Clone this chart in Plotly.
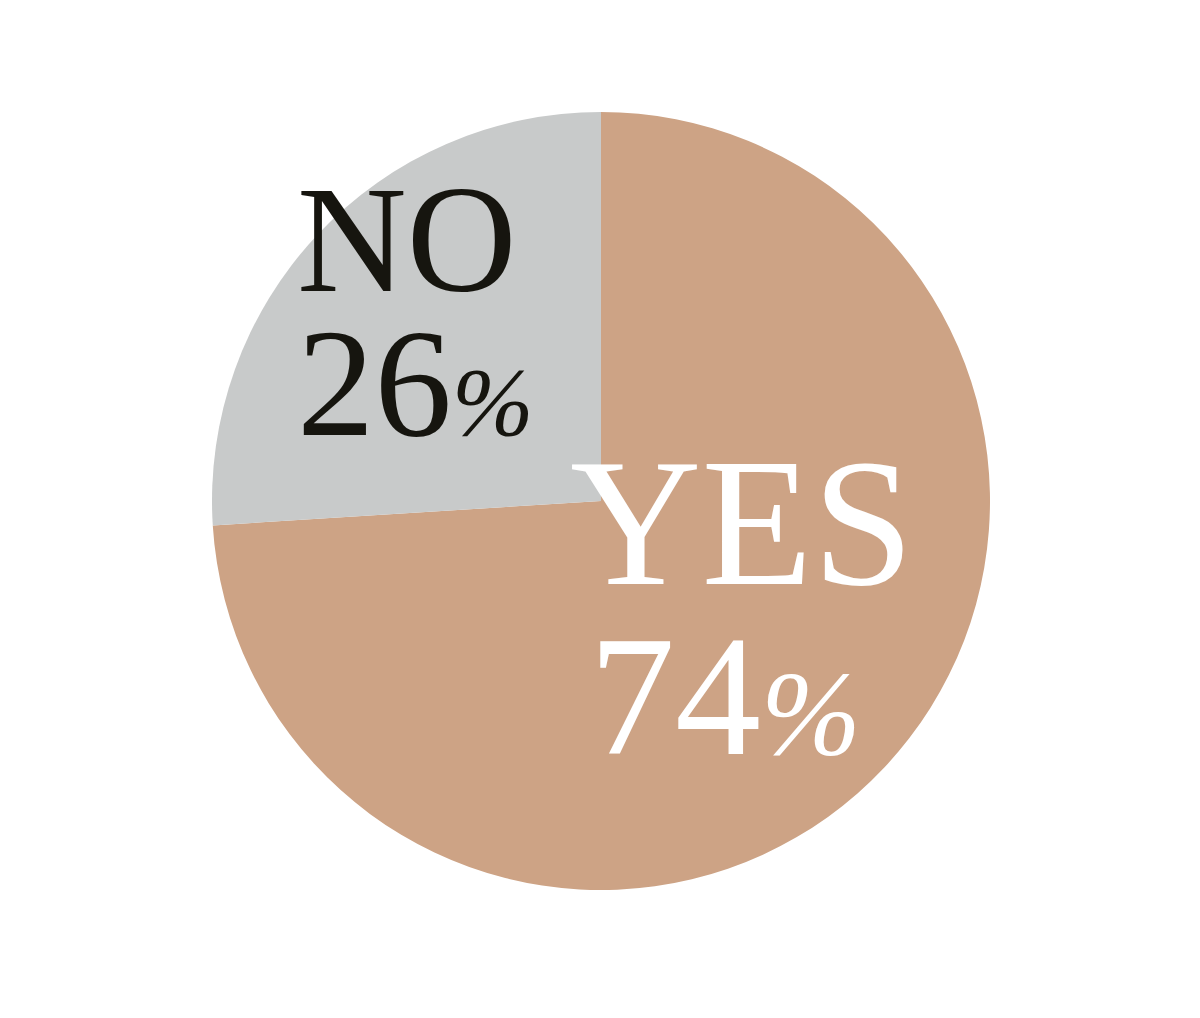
import plotly.graph_objects as go

labels = ["YES", "NO"]
values = [74, 26]
colors = ["#CDA385", "#C8CACA"]
text_colors = ["#FFFFFF", "#16150F"]

W, H = 1200, 1018
cx, cy, r = 593, 493, 389

fig = go.Figure(go.Pie(
    labels=labels, values=values, sort=False, direction="clockwise", rotation=0,
    marker=dict(colors=colors, line=dict(width=0)),
    textinfo="none", hoverinfo="skip", showlegend=False,
    domain=dict(x=[(cx - r) / W, (cx + r) / W], y=[1 - (cy + r) / H, 1 - (cy - r) / H]),
))

font_family = "Liberation Serif"
# label layout in pixels: (x_left, y_center, base_size(line gap), name_size, pct_size, pct_sign_size, indent_size)
placements = {
    "NO": (287, 304, 111, 152, 155, 98, 0),
    "YES": (560, 598, 131, 182, 172, 120, 76),
}

anns = []
for lab, val, tc in zip(labels, values, text_colors):
    x, y, base, sn, sp, ss, ind = placements[lab]
    indent = f"<span style='font-size:{ind}px'>&nbsp;</span>" if ind else ""
    txt = (f"<span style='font-size:{sn}px'>{lab}</span><br>"
           f"{indent}<span style='font-size:{sp}px'>{val}</span>"
           f"<i><span style='font-size:{ss}px'>%</span></i>")
    anns.append(dict(x=x / W, y=1 - y / H, xref="paper", yref="paper", xanchor="left", yanchor="middle",
                     align="left", text=txt, showarrow=False,
                     font=dict(family=font_family, size=base, color=tc)))

fig.update_layout(width=W, height=H, margin=dict(l=0, r=0, t=0, b=0),
                  paper_bgcolor="white", plot_bgcolor="white", annotations=anns)
fig.write_html("out.html")
